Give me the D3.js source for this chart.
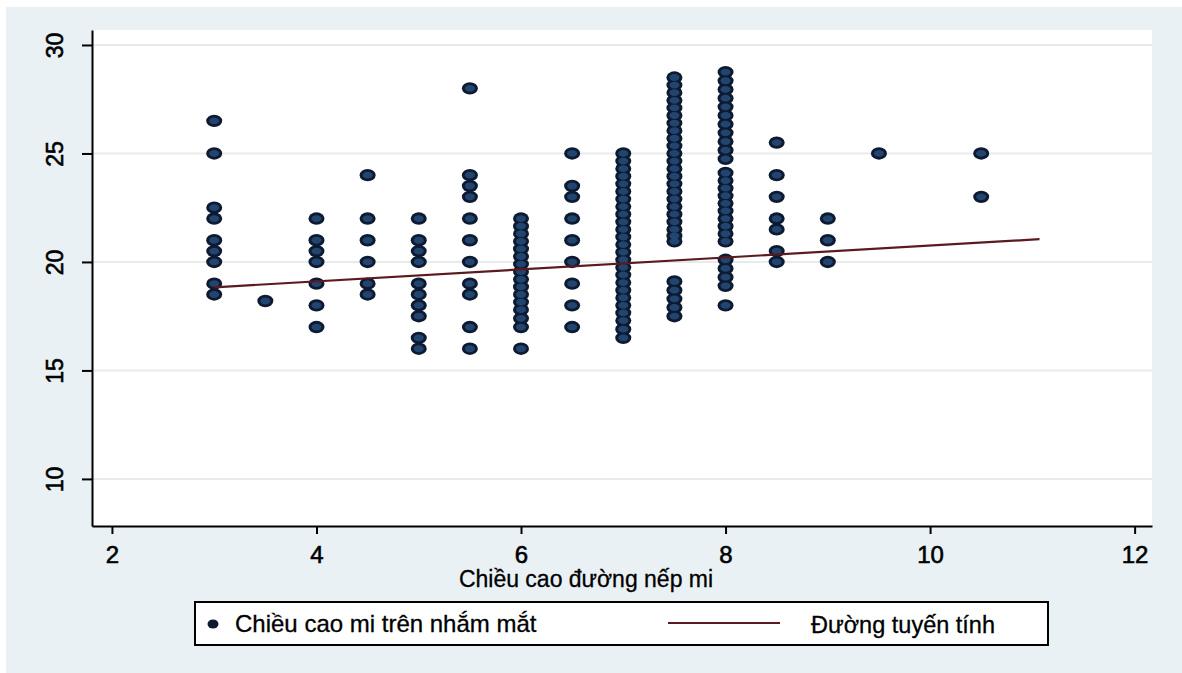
<!DOCTYPE html>
<html>
<head>
<meta charset="utf-8">
<script src="https://cdn.jsdelivr.net/npm/d3@7"></script>
<style>
  html, body { margin: 0; padding: 0; background: #ffffff; }
  svg { display: block; }
  text { font-family: "Liberation Sans", Arial, sans-serif; fill: #000; }
</style>
</head>
<body>
<svg id="chart" width="1182" height="673"></svg>
<script>
// ---- data ----
const xColumns = [3, 3.5, 4, 4.5, 5, 5.5, 6, 6.5, 7, 7.5, 8, 8.5, 9, 9.5, 10.5];
const col3   = [26.5, 25, 22.5, 22, 21, 20.5, 20, 19, 18.5];
const col3_5 = [18.2];
const col4   = [22, 21, 20.5, 20, 19, 18, 17];
const col4_5 = [24, 22, 21, 20, 19, 18.5];
const col5   = [22, 21, 20.5, 20, 19, 18.5, 18, 17.5, 16.5, 16];
const col5_5 = [28, 24, 23.5, 23, 22, 21, 20, 19, 18.5, 17, 16];
const col6   = [22, 21.65, 21.3, 20.95, 20.6, 20.25, 19.9, 19.55, 19.2, 18.85, 18.5, 18.15, 17.8, 17.4, 17, 16];
const col6_5 = [25, 23.5, 23, 22, 21, 20, 19, 18, 17];
const col7   = [25, 24.65, 24.3, 23.95, 23.6, 23.25, 22.9, 22.55, 22.2, 21.85, 21.5, 21.15, 20.8, 20.45, 20.1, 19.75, 19.4, 19.05, 18.7, 18.35, 18, 17.65, 17.3, 16.9, 16.5];
const col7_5 = [28.5, 28.15, 27.8, 27.45, 27.1, 26.75, 26.4, 26.05, 25.7, 25.35, 25, 24.65, 24.3, 23.95, 23.6, 23.25, 22.9, 22.55, 22.2, 21.85, 21.5, 21.2, 20.95, 19.1, 18.7, 18.3, 17.9, 17.5];
const col8   = [28.75, 28.35, 27.95, 27.55, 27.15, 26.75, 26.35, 25.95, 25.55, 25.15, 24.75, 24.1, 23.75, 23.4, 23.05, 22.7, 22.35, 22, 21.65, 21.3, 20.95, 20.1, 19.7, 19.3, 18.9, 18];
const col8_5 = [25.5, 24, 23, 22, 21.5, 20.5, 20];
const col9   = [22, 21, 20];
const col9_5 = [25];
const col10_5 = [25, 23];
const yColumns = [col3, col3_5, col4, col4_5, col5, col5_5, col6, col6_5, col7, col7_5, col8, col8_5, col9, col9_5, col10_5];

const fitX = [3, 11.07];
const fitY = [18.83, 21.05];

const xTicks = [2, 4, 6, 8, 10, 12];
const yTicks = [10, 15, 20, 25, 30];
const xTitle = "Chiều cao đường nếp mi";
const legendLabels = ["Chiều cao mi trên nhắm mắt", "Đường tuyến tính"];

// ---- layout ----
const svg = d3.select("#chart");
const plot = { left: 92, right: 1152, top: 30, bottom: 526 };
const x = d3.scaleLinear().domain([1.805, 12.17]).range([plot.left, plot.right]);
const y = d3.scaleLinear().domain([7.83, 30.69]).range([plot.bottom, plot.top]);

const markerDark = "#0d1a31";
const markerFill = "#27507f";
const fitColor = "#5a1a20";
const FONT = "'Liberation Sans', Arial, sans-serif";

// outer graph region
svg.append("rect").attr("x", 6).attr("y", 7).attr("width", 1176).attr("height", 666).attr("fill", "#e9f1f4");
// plot region
svg.append("rect").attr("x", plot.left).attr("y", plot.top)
  .attr("width", plot.right - plot.left).attr("height", plot.bottom - plot.top).attr("fill", "#ffffff");

// gridlines
svg.append("g").selectAll("line").data(yTicks).join("line")
  .attr("x1", plot.left).attr("x2", plot.right)
  .attr("y1", d => y(d)).attr("y2", d => y(d))
  .attr("stroke", "#e8ebec").attr("stroke-width", 2);

// points
const points = [];
xColumns.forEach((xv, i) => yColumns[i].forEach(yv => points.push({ x: xv, y: yv })));

const gPts = svg.append("g");
gPts.selectAll("ellipse.outer").data(points).join("ellipse")
  .attr("class", "outer")
  .attr("cx", d => x(d.x)).attr("cy", d => y(d.y))
  .attr("rx", 8).attr("ry", 6.2).attr("fill", markerDark);
gPts.selectAll("ellipse.inner").data(points).join("ellipse")
  .attr("class", "inner")
  .attr("cx", d => x(d.x)).attr("cy", d => y(d.y))
  .attr("rx", 5).attr("ry", 3.4).attr("fill", markerFill).attr("opacity", 0.8);

// fit line
const fitData = fitX.map((v, i) => [v, fitY[i]]);
svg.append("path").datum(fitData)
  .attr("d", d3.line().x(d => x(d[0])).y(d => y(d[1])))
  .attr("fill", "none").attr("stroke", fitColor).attr("stroke-width", 2.2);

// axes
const yAxis = svg.append("g").attr("transform", `translate(${plot.left},0)`)
  .call(d3.axisLeft(y).tickValues(yTicks).tickSize(10).tickSizeOuter(0).tickPadding(0));
yAxis.select(".domain").attr("stroke", "#000").attr("stroke-width", 2);
yAxis.selectAll(".tick line").attr("stroke", "#000").attr("stroke-width", 2);
yAxis.selectAll(".tick text")
  .attr("x", 0).attr("y", 0).attr("dy", null)
  .attr("transform", "translate(-29,0) rotate(-90)")
  .attr("text-anchor", "middle")
  .style("font-size", "23px").style("font-family", FONT)
  .attr("fill", "#000").attr("stroke", "#000").attr("stroke-width", 0.6);

const xAxis = svg.append("g").attr("transform", `translate(0,${plot.bottom})`)
  .call(d3.axisBottom(x).tickValues(xTicks).tickSize(8).tickSizeOuter(0).tickPadding(0));
xAxis.select(".domain").attr("stroke", "#000").attr("stroke-width", 2);
xAxis.selectAll(".tick line").attr("stroke", "#000").attr("stroke-width", 2);
xAxis.selectAll(".tick text")
  .attr("y", 37).attr("dy", null)
  .attr("text-anchor", "middle")
  .style("font-size", "24px").style("font-family", FONT)
  .attr("fill", "#000").attr("stroke", "#000").attr("stroke-width", 0.6);

// x title
svg.append("text").attr("x", 586).attr("y", 587).attr("text-anchor", "middle")
  .style("font-size", "23px").attr("stroke", "#000").attr("stroke-width", 0.3).text(xTitle);

// legend
const lg = svg.append("g");
lg.append("rect").attr("x", 195).attr("y", 602).attr("width", 853).attr("height", 43)
  .attr("fill", "#fff").attr("stroke", "#000").attr("stroke-width", 2);
lg.append("ellipse").attr("cx", 213).attr("cy", 624).attr("rx", 5.5).attr("ry", 4.6).attr("fill", markerDark);
lg.append("text").attr("x", 235).attr("y", 632).style("font-size", "24px")
  .attr("stroke", "#000").attr("stroke-width", 0.3).text(legendLabels[0]);
lg.append("line").attr("x1", 668).attr("x2", 780).attr("y1", 623).attr("y2", 623)
  .attr("stroke", fitColor).attr("stroke-width", 2.2);
lg.append("text").attr("x", 811).attr("y", 633).style("font-size", "23.5px")
  .attr("stroke", "#000").attr("stroke-width", 0.3).text(legendLabels[1]);
</script>
</body>
</html>
